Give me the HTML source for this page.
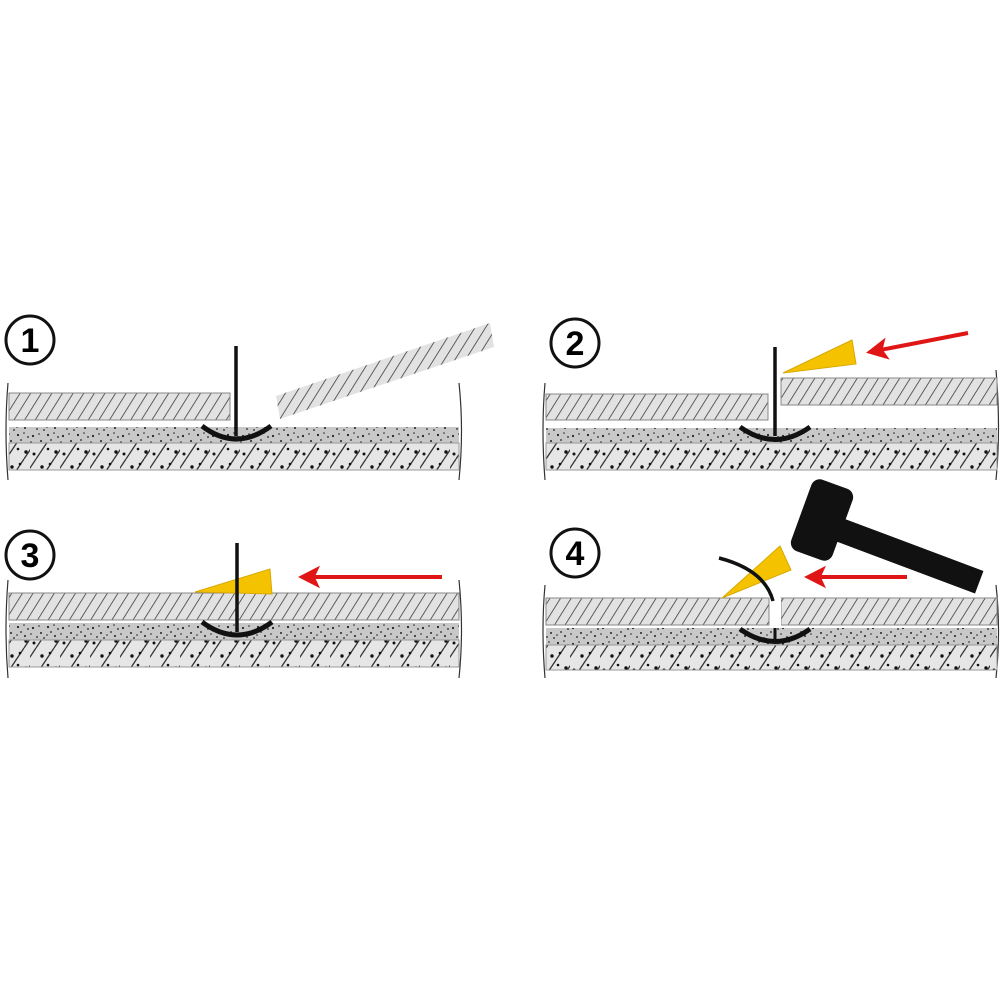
<!DOCTYPE html>
<html><head><meta charset="utf-8">
<style>html,body{margin:0;padding:0;background:#fff}svg{display:block}</style>
</head><body>
<svg width="1000" height="1000" viewBox="0 0 1000 1000" xmlns="http://www.w3.org/2000/svg">
<defs>
<pattern id="hatch" width="9" height="10" patternUnits="userSpaceOnUse" patternTransform="rotate(32)">
<rect width="9" height="10" fill="#e2e2e2"/>
<line x1="0" y1="0" x2="0" y2="10" stroke="#333" stroke-width="1.5"/>
</pattern>
<pattern id="conc" width="30" height="27" patternUnits="userSpaceOnUse">
<rect width="30" height="27" fill="#e6e6e6"/>
<line x1="6" y1="27" x2="24" y2="0" stroke="#333" stroke-width="1.3"/>
<line x1="-12" y1="27" x2="6" y2="0" stroke="#333" stroke-width="1.3"/>
<line x1="24" y1="27" x2="42" y2="0" stroke="#333" stroke-width="1.3"/>
<circle cx="12" cy="8" r="1.7" fill="#111"/><circle cx="26" cy="20" r="1.7" fill="#111"/>
<circle cx="4" cy="22" r="1.5" fill="#111"/><circle cx="20" cy="5" r="1.3" fill="#111"/>
<circle cx="18" cy="17" r="1.3" fill="#111"/>
</pattern>
<pattern id="mort" width="30" height="16" patternUnits="userSpaceOnUse">
<rect width="30" height="16" fill="#c8c8c8"/>
<circle cx="3" cy="4" r="1.1" fill="#222"/><circle cx="11" cy="9" r="1" fill="#222"/>
<circle cx="18" cy="3" r="1.1" fill="#222"/><circle cx="25" cy="12" r="1" fill="#222"/>
<circle cx="7" cy="13" r="0.9" fill="#222"/><circle cx="21" cy="8" r="0.9" fill="#222"/>
<circle cx="28" cy="5" r="0.9" fill="#222"/><circle cx="14" cy="14" r="0.9" fill="#222"/>
<circle cx="9" cy="2" r="0.8" fill="#222"/><circle cx="1" cy="10" r="0.8" fill="#222"/>
<circle cx="17" cy="11" r="0.8" fill="#222"/><circle cx="24" cy="1" r="0.8" fill="#222"/>
</pattern>
<marker id="ah" markerWidth="6" markerHeight="6" refX="5" refY="3" orient="auto" markerUnits="strokeWidth">
<path d="M6,3 L0.5,0.2 L1.8,3 L0.5,5.8 Z" fill="#e01515"/>
</marker>
</defs>

<g font-family="Liberation Sans, sans-serif" font-weight="bold" font-size="34" text-anchor="middle">
<!-- Panel 1 -->
<circle cx="30" cy="340" r="24" fill="none" stroke="#111" stroke-width="3"/>
<text x="30" y="352">1</text>
<path d="M8,383 Q4,430 8,480" fill="none" stroke="#333" stroke-width="1.2"/>
<path d="M459,383 Q464,430 459,480" fill="none" stroke="#333" stroke-width="1.2"/>
<rect x="9" y="393" width="221" height="27" fill="url(#hatch)" stroke="#888" stroke-width="1"/>
<polygon points="276,396 490,323 494,347 280,419" fill="url(#hatch)"/>
<rect x="9" y="427" width="450" height="16" fill="url(#mort)"/>
<rect x="9" y="443" width="450" height="27" fill="url(#conc)" stroke="#999" stroke-width="1"/>
<line x1="236" y1="346" x2="236" y2="436" stroke="#111" stroke-width="3.5"/>
<path d="M202,426 Q236,452 271,426" fill="none" stroke="#111" stroke-width="5"/>

<!-- Panel 2 -->
<circle cx="575" cy="343" r="24" fill="none" stroke="#111" stroke-width="3"/>
<text x="575" y="355">2</text>
<path d="M545,383 Q541,430 545,480" fill="none" stroke="#333" stroke-width="1.2"/>
<path d="M996,370 Q1001,430 996,480" fill="none" stroke="#333" stroke-width="1.2"/>
<rect x="546" y="394" width="222" height="26" fill="url(#hatch)" stroke="#888" stroke-width="1"/>
<rect x="781" y="378" width="216" height="27" fill="url(#hatch)" stroke="#888" stroke-width="1"/>
<rect x="546" y="428" width="451" height="15" fill="url(#mort)"/>
<rect x="546" y="443" width="451" height="27" fill="url(#conc)" stroke="#999" stroke-width="1"/>
<line x1="775" y1="347" x2="775" y2="436" stroke="#111" stroke-width="3.5"/>
<path d="M740,427 Q775,452 810,427" fill="none" stroke="#111" stroke-width="5"/>
<polygon points="783,373 852,340 856,364" fill="#f5c200" stroke="#d9a800" stroke-width="1"/>
<line x1="968" y1="333" x2="870" y2="352" stroke="#e01515" stroke-width="4" marker-end="url(#ah)"/>

<!-- Panel 3 -->
<circle cx="30" cy="555" r="24" fill="none" stroke="#111" stroke-width="3"/>
<text x="30" y="567">3</text>
<path d="M8,580 Q4,630 8,678" fill="none" stroke="#333" stroke-width="1.2"/>
<path d="M459,580 Q464,630 459,678" fill="none" stroke="#333" stroke-width="1.2"/>
<rect x="9" y="593" width="450" height="27" fill="url(#hatch)" stroke="#888" stroke-width="1"/>
<rect x="9" y="623" width="450" height="17" fill="url(#mort)"/>
<rect x="9" y="640" width="450" height="27" fill="url(#conc)" stroke="#999" stroke-width="1"/>
<polygon points="195,592 270,569 272,594" fill="#f5c200" stroke="#d9a800" stroke-width="1"/>
<line x1="237" y1="543" x2="237" y2="632" stroke="#111" stroke-width="3.5"/>
<path d="M202,622 Q237,648 272,622" fill="none" stroke="#111" stroke-width="5"/>
<line x1="442" y1="577" x2="302" y2="577" stroke="#e01515" stroke-width="4" marker-end="url(#ah)"/>

<!-- Panel 4 -->
<circle cx="575" cy="553" r="24" fill="none" stroke="#111" stroke-width="3"/>
<text x="575" y="565">4</text>
<path d="M545,585 Q541,630 545,678" fill="none" stroke="#333" stroke-width="1.2"/>
<path d="M996,585 Q1001,630 996,678" fill="none" stroke="#333" stroke-width="1.2"/>
<rect x="546" y="598" width="223" height="27" fill="url(#hatch)" stroke="#888" stroke-width="1"/>
<rect x="781" y="598" width="216" height="27" fill="url(#hatch)" stroke="#888" stroke-width="1"/>
<rect x="546" y="628" width="451" height="17" fill="url(#mort)"/>
<rect x="546" y="645" width="451" height="25" fill="url(#conc)" stroke="#999" stroke-width="1"/>
<rect x="770" y="598" width="11" height="30" fill="#fff"/>
<path d="M740,629 Q775,654 810,629" fill="none" stroke="#111" stroke-width="5"/>
<line x1="775" y1="628" x2="775" y2="640" stroke="#111" stroke-width="3"/>
<polygon points="722,598 780,546 791,570" fill="#f5c200" stroke="#d9a800" stroke-width="1"/>
<path d="M719,558 Q765,570 773,601" fill="none" stroke="#111" stroke-width="3.5"/>
<line x1="907" y1="577" x2="808" y2="577" stroke="#e01515" stroke-width="4" marker-end="url(#ah)"/>
<!-- hammer -->
<line x1="840" y1="530" x2="968" y2="578" stroke="#111" stroke-width="24" stroke-linecap="square"/>
<g transform="translate(822,520) rotate(20)">
<rect x="-22" y="-38" width="44" height="76" rx="9" fill="#111"/>
</g>
</g>
</svg>
</body></html>
